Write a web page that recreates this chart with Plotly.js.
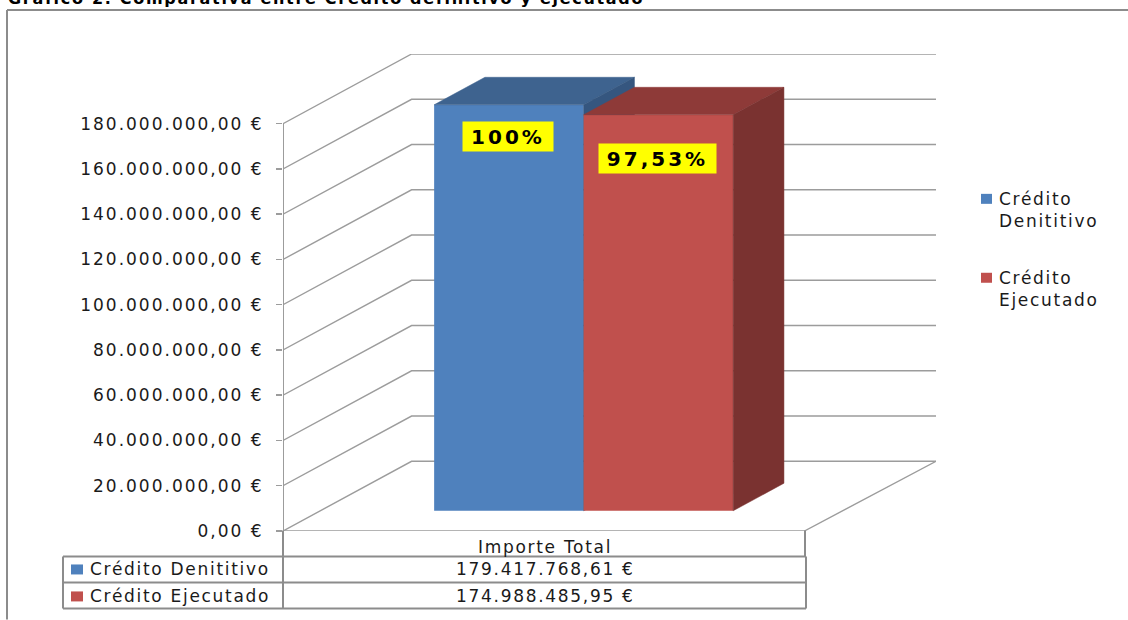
<!DOCTYPE html>
<html>
<head>
<meta charset="utf-8">
<script src="https://cdn.plot.ly/plotly-3.0.1.min.js"></script>
<style>
html,body{margin:0;padding:0;background:#fff;overflow:hidden}
.ytick text{letter-spacing:2px}
.annotation-text{letter-spacing:1.7px}
.annotation-text[style*="font-size: 20px"]{letter-spacing:3px}
</style>
</head>
<body>
<div id="chart" style="width:1128px;height:620px"></div>
<script>
const seriesNames = ['Crédito Denititivo', 'Crédito Ejecutado'];
const legendLabels = ['Crédito<br>Denititivo', 'Crédito<br>Ejecutado'];
const categories = ['Importe Total'];
const seriesValues = [179417768.61, 174988485.95];
const seriesText = ['179.417.768,61 €', '174.988.485,95 €'];
const percentLabels = ['100%', '97,53%'];
const tickValues = [0, 20e6, 40e6, 60e6, 80e6, 100e6, 120e6, 140e6, 160e6, 180e6];
const tickLabels = ['0,00 €', '20.000.000,00 €', '40.000.000,00 €', '60.000.000,00 €', '80.000.000,00 €',
  '100.000.000,00 €', '120.000.000,00 €', '140.000.000,00 €', '160.000.000,00 €', '180.000.000,00 €'];
const frontColors = ['#4F81BD', '#C0504D'];
const topColors = ['#3E638F', '#8E3A38'];
const sideColors = ['#35567F', '#7A3230'];
const gridColor = '#9C9C9C', frameColor = '#8C8C8C', textColor = '#1A1A1A';

// Oblique projection: depth d in 0..1 shifts x and value together
const W = 1128, H = 620, mL = 283, mR = 192, mT = 54, mB = 88.5;
const depthX = 0.2452, depthY = 30.8e6;
const yMax = 180e6 + depthY, xMax = 1 + depthX;
const d0 = 0.29, d1 = 0.685, barW = 0.2851, barStart = 0.2171, floorEnd = 0.9943;
const proj = (c, v, d) => [c + d * depthX, v + d * depthY];

const traces = [];
function poly(pts, color, xa, ya) {
  traces.push({type:'scatter', mode:'lines', x:pts.map(p=>p[0]), y:pts.map(p=>p[1]), fill:'toself', fillcolor:color,
    line:{color:color, width:0.5}, hoverinfo:'skip', showlegend:false, xaxis:xa, yaxis:ya, cliponaxis:false});
}
function line(pts, xa, ya, w) {
  traces.push({type:'scatter', mode:'lines', x:pts.map(p=>p[0]), y:pts.map(p=>p[1]),
    line:{color:gridColor, width:w||1.4}, hoverinfo:'skip', showlegend:false, xaxis:xa||'x', yaxis:ya||'y', cliponaxis:false});
}
tickValues.forEach(v => line([proj(0,v,0), proj(0,v,1), proj(1,v,1)]));
line([proj(0,0,0), proj(floorEnd,0,0), proj(1,0,1)]);
line([proj(0,0,0), proj(0,180e6,0)], 'x', 'y', 2);

seriesValues.forEach((val, i) => {
  const xa = 'x' + (i + 2), ya = 'y' + (i + 2);
  const c0 = barStart + i * barW, c1 = c0 + barW;
  const base = d0 * depthY, frontLeft = c0 + d0 * depthX;
  traces.push({type:'bar', x:[frontLeft + barW / 2], y:[val], base:[base], width:[barW], name:seriesNames[i],
    marker:{color:frontColors[i], line:{width:0}}, hovertext:categories[0], showlegend:false, xaxis:xa, yaxis:ya});
  poly([proj(c0,val,d0), proj(c1,val,d0), proj(c1,val,d1), proj(c0,val,d1), proj(c0,val,d0)], topColors[i], xa, ya);
  poly([proj(c1,val,d0), proj(c1,val,d1), proj(c1,0,d1), proj(c1,0,d0), proj(c1,val,d0)], sideColors[i], xa, ya);
});

const px = x => (x - mL) / (W - mL - mR);
const py = y => 1 - (y - mT) / (H - mT - mB);
const shapes = [], annotations = [];
function seg(x0,y0,x1,y1,w){shapes.push({type:'line',xref:'paper',yref:'paper',x0:px(x0),y0:py(y0),x1:px(x1),y1:py(y1),line:{color:frameColor,width:w||2},layer:'above'});}
function sq(x0,y0,x1,y1,c){shapes.push({type:'rect',xref:'paper',yref:'paper',x0:px(x0),y0:py(y0),x1:px(x1),y1:py(y1),fillcolor:c,line:{width:0},layer:'above'});}
function label(text,x,y,xanchor,size,extra){annotations.push(Object.assign({text:text,xref:'paper',yref:'paper',x:px(x),y:py(y),xanchor:xanchor,yanchor:'middle',showarrow:false,align:'left',
  font:{family:'DejaVu Sans',size:size,color:textColor}},extra||{}));}

// frame
seg(7,10,1128,10); seg(7,10,7,620);
// data table
seg(283,531,283,609); seg(805,531,805,557);
seg(283,557,806,557); seg(63,557,283,557);
seg(63,583,806,583); seg(63,609,806,609); seg(63,557,63,609); seg(806,557,806,609);
label(categories[0],545,547.5,'center',17);
seriesNames.forEach((n,i)=>{
  const y = 570 + i*27;
  sq(71,y-5,83,y+5,frontColors[i]);
  label(n,87.5,y,'left',17);
  label(seriesText[i],545,y,'center',17);
});
// legend
[[981,199,legendLabels[0]],[981,278,legendLabels[1]]].forEach((e,i)=>{
  sq(981,e[1]-5,992,e[1]+5,frontColors[i]);
  label(e[2],996.5,e[1]+11,'left',17);
});
// percent labels
[[508,137,90,29],[657.5,158.5,117,29]].forEach((b,i)=>{
  label('<b>'+percentLabels[i]+'</b>',b[0],b[1],'center',20,{bgcolor:'#FFFF00',width:b[2],height:b[3],align:'center',valign:'middle',borderpad:0,font:{family:'DejaVu Sans',size:20,color:'#000'}});
});
// title, cropped by the top of the picture
label('<b>Gráfico 2. Comparativa entre Crédito definitivo y ejecutado</b>',6,-2,'left',16,{font:{family:'DejaVu Sans',size:16,color:'#000'}});

const hidden = r => ({range:r, visible:false, fixedrange:true});
const layout = {
  width:W, height:H, margin:{l:mL,r:mR,t:mT,b:mB,pad:0}, paper_bgcolor:'#fff', plot_bgcolor:'rgba(0,0,0,0)',
  showlegend:false, barmode:'overlay', shapes:shapes, annotations:annotations,
  xaxis:hidden([0,xMax]),
  yaxis:{range:[0,yMax], fixedrange:true, tickmode:'array', tickvals:tickValues, ticktext:tickLabels, showgrid:false, zeroline:false, showline:false,
    ticks:'outside', ticklen:6, tickwidth:1.5, tickcolor:gridColor, ticklabelstandoff:9,
    tickfont:{family:'DejaVu Sans',size:17,color:textColor}},
  xaxis2:Object.assign(hidden([0,xMax]),{overlaying:'x'}), yaxis2:Object.assign(hidden([0,yMax]),{overlaying:'y'}),
  xaxis3:Object.assign(hidden([0,xMax]),{overlaying:'x'}), yaxis3:Object.assign(hidden([0,yMax]),{overlaying:'y'})
};
Plotly.newPlot('chart', traces, layout, {displayModeBar:false, staticPlot:true});
</script>
</body>
</html>
